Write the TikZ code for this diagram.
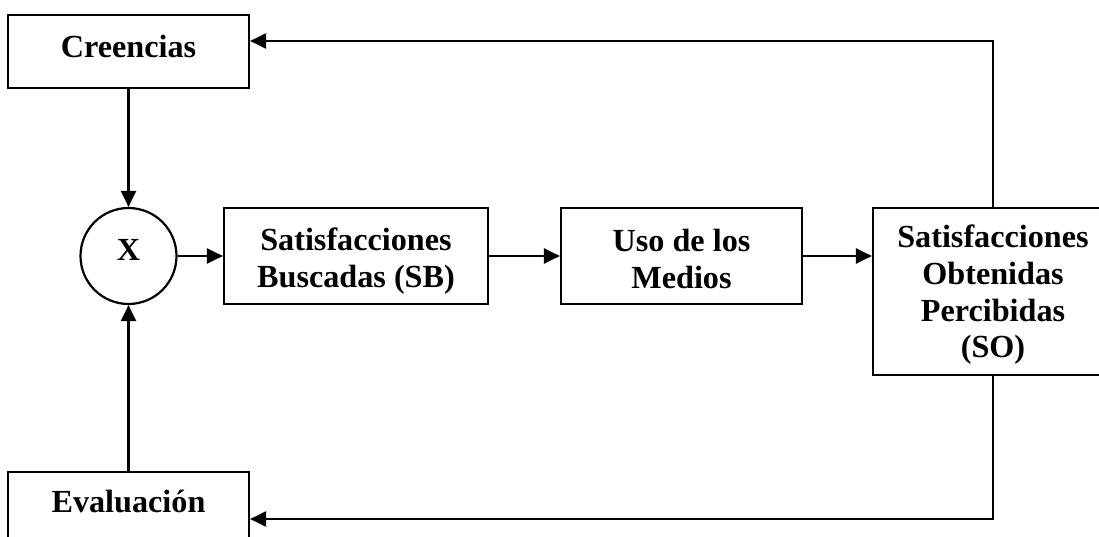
\documentclass[tikz,border=0pt]{standalone}
\usepackage{fontspec}
\setmainfont{Liberation Serif}
\usetikzlibrary{arrows.meta}
% centred stack of lines whose last baseline lies #1 below the node centre
\newcommand{\boxtext}[2]{\raisebox{-#1}[0pt][0pt]{\begin{tabular}[b]{@{}c@{}}#2\end{tabular}}}
\begin{document}
\begin{tikzpicture}[x=1pt,y=-1pt,
  every node/.style={font=\fontsize{32.2pt}{36.7pt}\selectfont\bfseries},
  box/.style={draw,line width=2.2pt,inner sep=0pt},
  conn/.style={line width=2.2pt,-{Triangle[length=16pt,width=15pt]}}]
\useasboundingbox (0,0) rectangle (1099,537);
\clip (0,0) rectangle (1099,537);
% boxes and the multiplier circle
\node[box,minimum width=241pt,minimum height=73pt] (cre) at (128.5,51.5) {\boxtext{6.2pt}{Creencias}};
\node[box,circle,minimum size=96pt] (x) at (128.5,256) {\boxtext{4pt}{X}};
\node[box,minimum width=264pt,minimum height=96pt] (sb) at (356,256) {\boxtext{31pt}{Satisfacciones\\Buscadas (SB)}};
\node[box,minimum width=241pt,minimum height=96pt] (uso) at (681.5,256) {\boxtext{32pt}{Uso de los\\Medios}};
\node[box,minimum width=240pt,minimum height=167pt] (so) at (993,291.5) {\boxtext{66.4pt}{Satisfacciones\\Obtenidas\\Percibidas\\(SO)}};
\node[box,minimum width=241pt,minimum height=74pt] (eva) at (128.5,509) {\boxtext{3.5pt}{Evaluación}};
% feedback corners
\coordinate (topc) at (993,41);
\coordinate (botc) at (993,519);
% connectors
\draw[conn] (cre.south) -- (x.north);
\draw[conn] (eva.north) -- (x.south);
\draw[conn] (x.east) -- (sb.west);
\draw[conn] (sb.east) -- (uso.west);
\draw[conn] (uso.east) -- (uso.east -| so.west);
\draw[conn] (so.north) -- (topc) -- (topc -| cre.east);
\draw[conn] (so.south) -- (botc) -- (botc -| eva.east);
\end{tikzpicture}
\end{document}
